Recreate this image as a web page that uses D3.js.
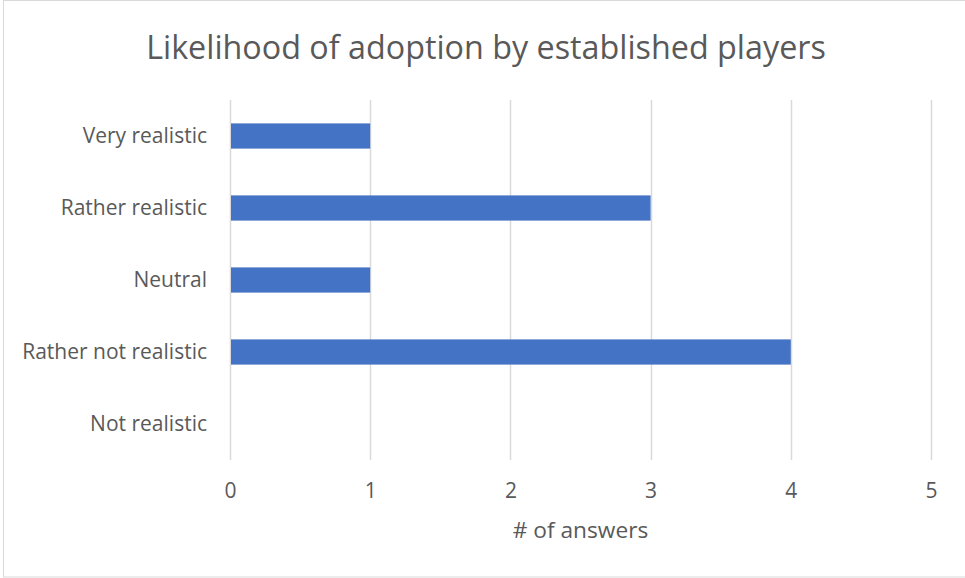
<!DOCTYPE html>
<html>
<head>
<meta charset="utf-8">
<script src="https://cdn.jsdelivr.net/npm/d3@7"></script>
<style>
  body { margin: 0; background: #fff; }
  text { font-family: "Open Sans", Lato, sans-serif; fill: #595959; font-variant-ligatures: none; }
</style>
</head>
<body>
<div id="container"></div>
<script>
const categories = ["Very realistic", "Rather realistic", "Neutral", "Rather not realistic", "Not realistic"];
const answers = [1, 3, 1, 4, 0];
const xTicks = [0, 1, 2, 3, 4, 5];

const W = 965, H = 578;
const margin = { top: 100, right: 34, bottom: 118, left: 230 };
const width = W - margin.left - margin.right;
const height = H - margin.top - margin.bottom;

const svg = d3.select("#container").append("svg")
  .attr("width", W)
  .attr("height", H);

svg.append("rect")
  .attr("x", 3.5).attr("y", 0.5)
  .attr("width", W).attr("height", H - 1.5)
  .attr("fill", "none")
  .attr("stroke", "#d9d9d9");

svg.append("text")
  .attr("x", 486).attr("y", 59)
  .attr("text-anchor", "middle")
  .style("font-size", "32.3px")
  .text("Likelihood of adoption by established players");

const g = svg.append("g")
  .attr("transform", `translate(${margin.left},${margin.top})`);

const x = d3.scaleLinear().domain([0, 5]).range([0, width]);
const y = d3.scaleBand().domain(categories).range([0, height]).paddingInner(0.65).paddingOuter(0.325);

// gridlines
g.selectAll("line.grid")
  .data(xTicks)
  .enter().append("line")
  .attr("class", "grid")
  .attr("x1", d => Math.round(x(d)) + 0.5)
  .attr("x2", d => Math.round(x(d)) + 0.5)
  .attr("y1", 0)
  .attr("y2", height)
  .attr("stroke", "#d9d9d9")
  .attr("stroke-width", 1.5);

g.selectAll("rect.bar")
  .data(answers)
  .enter().append("rect")
  .attr("class", "bar")
  .attr("x", x(0) + 1)
  .attr("y", (d, i) => y(categories[i]))
  .attr("width", d => Math.max(0, x(d) - 1))
  .attr("height", y.bandwidth())
  .attr("fill", "#4472c4");

const xAxis = g.append("g")
  .attr("transform", `translate(0,${height})`)
  .call(d3.axisBottom(x).tickValues(xTicks).tickFormat(d3.format("d")).tickSize(0).tickPadding(23));
xAxis.select(".domain").remove();
xAxis.selectAll("text").style("font-size", "21px").attr("fill", "#595959");

const yAxis = g.append("g")
  .call(d3.axisLeft(y).tickSize(0).tickPadding(23));
yAxis.select(".domain").remove();
yAxis.selectAll("text").style("font-size", "21px").attr("fill", "#595959");

svg.append("text")
  .attr("x", margin.left + width / 2).attr("y", 538)
  .attr("text-anchor", "middle")
  .style("font-size", "22.7px")
  .text("# of answers");
</script>
</body>
</html>
